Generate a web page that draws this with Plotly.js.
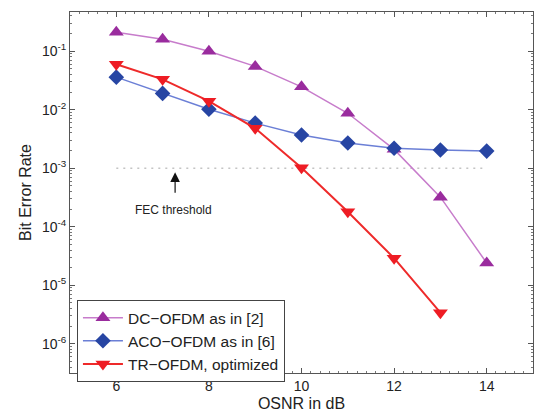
<!DOCTYPE html>
<html><head><meta charset="utf-8">
<script src="https://cdn.plot.ly/plotly-3.0.1.min.js"></script>
<style>html,body{margin:0;padding:0;background:#fff}#chart{width:534px;height:419px}</style>
</head><body><div id="chart"></div>
<script>
const osnr = [6, 7, 8, 9, 10, 11, 12, 13, 14];
const dcOfdm = [0.21, 0.16, 0.10, 0.055, 0.0246, 0.0087, 0.0021, 3.2e-4, 2.4e-5];
const acoOfdm = [0.036, 0.019, 0.0102, 0.0059, 0.0037, 0.0027, 0.0022, 0.00205, 0.00196];
const trOsnr = [6, 7, 8, 9, 10, 11, 12, 13];
const trOfdm = [0.060, 0.033, 0.014, 0.0048, 0.00102, 1.8e-4, 2.9e-5, 3.4e-6];
const fecX = [6, 14];
const fecY = [1e-3, 1e-3];
const seriesNames = ['DC\u2212OFDM as in [2]', 'ACO\u2212OFDM as in [6]', 'TR\u2212OFDM, optimized'];
const yTickVals = [1e-6, 1e-5, 1e-4, 1e-3, 1e-2, 1e-1];
const yTickText = ['10<sup>-6</sup>', '10<sup>-5</sup>', '10<sup>-4</sup>', '10<sup>-3</sup>', '10<sup>-2</sup>', '10<sup>-1</sup>'];
const xTickVals = [6, 8, 10, 12, 14];

const font = 'Liberation Sans, Arial, sans-serif';
const traces = [
  {x: fecX, y: fecY, mode: 'lines', line: {color: '#c4c4c4', width: 1.5, dash: '2px,5px'}, showlegend: false, hoverinfo: 'skip'},
  {x: osnr, y: dcOfdm, name: seriesNames[0], mode: 'lines+markers',
   line: {color: '#c77ccb', width: 1.5}, marker: {symbol: 'triangle-up', size: 13, color: '#9a2c9e'}},
  {x: osnr, y: acoOfdm, name: seriesNames[1], mode: 'lines+markers',
   line: {color: '#6b7fd6', width: 1.5}, marker: {symbol: 'diamond', size: 12, color: '#2745a3'}},
  {x: trOsnr, y: trOfdm, name: seriesNames[2], mode: 'lines+markers',
   line: {color: '#ee2a2a', width: 2}, marker: {symbol: 'triangle-down', size: 13, color: '#ee1c24'}}
];
const layout = {
  width: 534, height: 419,
  margin: {l: 70, r: 1, t: 12, b: 46},
  paper_bgcolor: '#fff', plot_bgcolor: '#fff',
  font: {family: font, size: 12, color: '#222'},
  xaxis: {
    range: [5, 15], tickvals: xTickVals, ticks: 'inside', ticklen: 5, tickcolor: '#555',
    showline: true, linecolor: '#555', linewidth: 1, mirror: 'allticks', showgrid: false, zeroline: false,
    minor: {dtick: 0.2, ticks: 'inside', ticklen: 2, tickcolor: '#777'},
    tickfont: {size: 14, family: font, color: '#222'},
    title: {text: 'OSNR in dB', font: {size: 16, family: font, color: '#222'}, standoff: 5}
  },
  yaxis: {
    type: 'log', range: [-6.5, -0.33], tickvals: yTickVals, ticktext: yTickText,
    ticks: 'inside', ticklen: 5, tickcolor: '#555',
    showline: true, linecolor: '#555', linewidth: 1, mirror: 'allticks', showgrid: false, zeroline: false,
    minor: {dtick: 'D1', ticks: 'inside', ticklen: 2, tickcolor: '#777'},
    tickfont: {size: 14, family: font, color: '#222'},
    title: {text: 'Bit Error Rate', font: {size: 16, family: font, color: '#222'}, standoff: 6}
  },
  legend: {
    x: 0.015, y: 0.202, xanchor: 'left', yanchor: 'top',
    bgcolor: '#fff', bordercolor: '#444', borderwidth: 1,
    font: {size: 15.5, family: font, color: '#222'}, tracegroupgap: 0, itemwidth: 40
  },
  annotations: [
    {x: 7.27, y: Math.log10(1e-3) - 0.07, xref: 'x', yref: 'y', ax: 0, ay: 22, axref: 'pixel', ayref: 'pixel',
     showarrow: true, arrowhead: 2, arrowsize: 1.6, arrowwidth: 1.2, arrowcolor: '#111', text: ''},
    {x: 7.24, y: -3.72, xref: 'x', yref: 'y', showarrow: false, text: 'FEC threshold',
     font: {size: 12, family: font, color: '#222'}}
  ],
  showlegend: true
};
Plotly.newPlot('chart', traces, layout, {displayModeBar: false, staticPlot: true});
</script></body></html>
